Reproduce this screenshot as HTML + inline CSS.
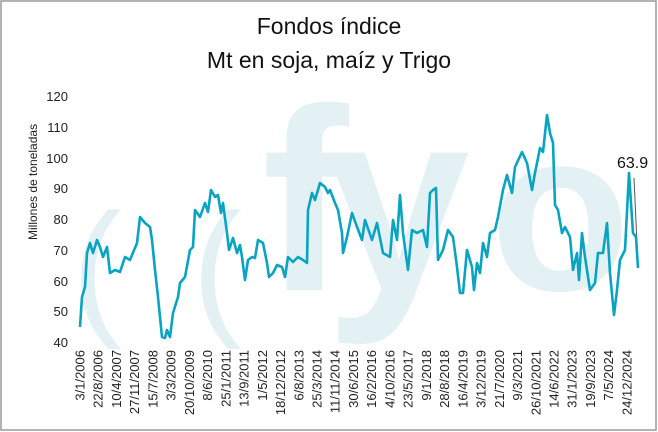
<!DOCTYPE html>
<html><head><meta charset="utf-8"><style>
html,body{margin:0;padding:0;background:#fff}
svg{display:block}
text{font-family:"Liberation Sans",sans-serif}
</style></head><body>
<svg width="658" height="432" viewBox="0 0 658 432" xmlns="http://www.w3.org/2000/svg">
<rect x="1" y="1" width="655" height="429" fill="#fff" stroke="#9a9a9a" stroke-width="1.5"/>
<g fill="#e3f1f5">
<text x="72" y="318" font-size="150">(</text>
<text x="192" y="318" font-size="150">(</text>
<text x="262" y="290" font-size="260" font-weight="bold">f</text>
<text x="325" y="290" font-size="260" font-weight="bold">y</text>
<text x="490" y="290" font-size="230" font-weight="bold">o</text>
</g>
<text x="329" y="34" font-size="23" text-anchor="middle" fill="#111">Fondos índice</text>
<text x="329" y="68" font-size="23" text-anchor="middle" fill="#111">Mt en soja, maíz y Trigo</text>
<g font-size="13" fill="#222" text-anchor="end">
<text x="68" y="101">120</text><text x="68" y="132">110</text><text x="68" y="163">100</text>
<text x="68" y="193">90</text><text x="68" y="224">80</text><text x="68" y="255">70</text>
<text x="68" y="286">60</text><text x="68" y="316">50</text><text x="68" y="347">40</text>
</g>
<text transform="translate(37,240) rotate(-90)" font-size="12" fill="#222">Millones de toneladas</text>
<g font-size="13" fill="#222" text-anchor="end">
<text transform="translate(84.5,350) rotate(-90)">3/1/2006</text>
<text transform="translate(102.7,350) rotate(-90)">22/8/2006</text>
<text transform="translate(121,350) rotate(-90)">10/4/2007</text>
<text transform="translate(139.2,350) rotate(-90)">27/11/2007</text>
<text transform="translate(157.4,350) rotate(-90)">15/7/2008</text>
<text transform="translate(175.7,350) rotate(-90)">3/3/2009</text>
<text transform="translate(193.9,350) rotate(-90)">20/10/2009</text>
<text transform="translate(212.1,350) rotate(-90)">8/6/2010</text>
<text transform="translate(230.3,350) rotate(-90)">25/1/2011</text>
<text transform="translate(248.6,350) rotate(-90)">13/9/2011</text>
<text transform="translate(266.8,350) rotate(-90)">1/5/2012</text>
<text transform="translate(285,350) rotate(-90)">18/12/2012</text>
<text transform="translate(303.3,350) rotate(-90)">6/8/2013</text>
<text transform="translate(321.5,350) rotate(-90)">25/3/2014</text>
<text transform="translate(339.7,350) rotate(-90)">11/11/2014</text>
<text transform="translate(358,350) rotate(-90)">30/6/2015</text>
<text transform="translate(376.2,350) rotate(-90)">16/2/2016</text>
<text transform="translate(394.4,350) rotate(-90)">4/10/2016</text>
<text transform="translate(412.6,350) rotate(-90)">23/5/2017</text>
<text transform="translate(430.9,350) rotate(-90)">9/1/2018</text>
<text transform="translate(449.1,350) rotate(-90)">28/8/2018</text>
<text transform="translate(467.3,350) rotate(-90)">16/4/2019</text>
<text transform="translate(485.6,350) rotate(-90)">3/12/2019</text>
<text transform="translate(503.8,350) rotate(-90)">21/7/2020</text>
<text transform="translate(522,350) rotate(-90)">9/3/2021</text>
<text transform="translate(540.3,350) rotate(-90)">26/10/2021</text>
<text transform="translate(558.5,350) rotate(-90)">14/6/2022</text>
<text transform="translate(576.7,350) rotate(-90)">31/1/2023</text>
<text transform="translate(594.9,350) rotate(-90)">19/9/2023</text>
<text transform="translate(613.2,350) rotate(-90)">7/5/2024</text>
<text transform="translate(631.4,350) rotate(-90)">24/12/2024</text>
</g>
<line x1="634" y1="178" x2="638" y2="265" stroke="#555" stroke-width="1"/>
<polyline fill="none" stroke="#0aa3c2" stroke-width="2.6" stroke-linejoin="round" points="80,327 82,297 85,287 87,253 90,243 93,253 97,240 100,247 103,257 107,247 110,273 115,270 120,272 125,257 130,260 137,243 140,217 145,223 150,227 152,240 155,270 158,297 162,337 165,338 167,330 170,337 173,313 178,297 180,283 185,277 190,250 193,247 195,210 200,217 205,203 208,212 211,190 215,197 218,195 221,213 223,203 227,233 229,250 233,238 237,253 240,245 242,257 245,280 248,260 252,257 255,258 258,240 263,243 267,263 269,277 273,273 277,265 282,267 285,277 288,257 293,262 298,257 303,260 307,263 308,210 312,193 315,200 320,183 325,187 328,193 330,190 335,203 338,210 342,233 343,253 347,237 352,213 357,227 362,240 365,220 372,240 377,223 383,253 390,257 393,220 397,240 400,195 403,233 408,270 412,230 417,233 423,230 427,247 430,193 433,190 436,188 438,260 443,250 448,230 453,237 457,267 460,293 463,293 467,250 472,267 474,290 477,263 480,273 483,243 487,257 490,233 495,230 498,217 503,190 507,175 512,193 515,167 522,152 527,163 532,190 535,173 540,148 543,152 547,115 550,133 553,143 555,205 558,210 562,233 565,227 570,237 573,270 577,253 579,280 582,233 585,257 590,290 595,283 598,253 603,253 607,223 610,273 614,315 617,290 620,260 625,250 629,173 633,233 636,237 638,268"/>
<text x="617" y="168" font-size="16" fill="#111">63.9</text>
</svg>
</body></html>
